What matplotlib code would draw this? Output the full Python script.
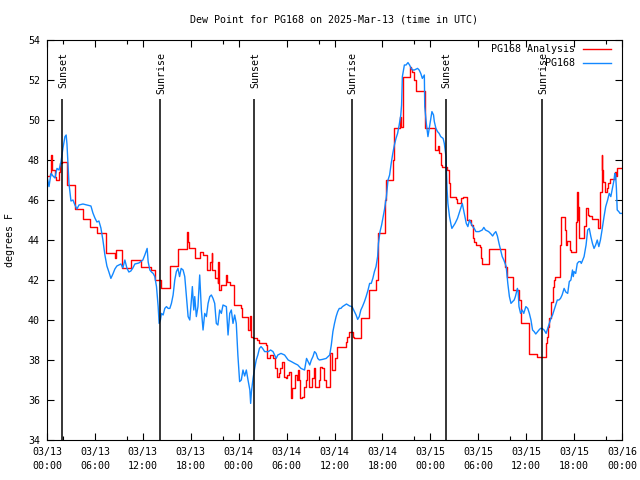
import matplotlib
matplotlib.use("Agg")
import matplotlib.pyplot as plt
from matplotlib.lines import Line2D

# hours since 2025-03-13 00:00 UTC
analysis_t = [0.0, 0.4, 0.5, 0.58, 0.95, 1.15, 1.45, 1.6, 1.85, 2.5, 3.5, 4.5, 5.4, 6.3,
              7.45, 8.5, 8.7, 9.4, 10.5, 11.8, 13.0, 13.5, 14.3, 15.45, 16.45, 17.5, 17.6,
              17.75, 18.5, 19.2, 19.5, 20.0, 20.45, 20.6, 20.7, 21.0, 21.35, 21.45, 21.55,
              21.75, 22.4, 22.55, 22.9, 23.45, 24.25, 24.45, 25.15, 25.45, 25.55, 25.75,
              26.3, 26.6, 27.4, 27.55, 27.9, 28.35, 28.6, 28.8, 29.0, 29.2, 29.45, 29.7,
              29.9, 30.1, 30.3, 30.55, 30.65, 31.1, 31.25, 31.4, 31.55, 31.7, 31.95, 32.15,
              32.4, 32.6, 32.8, 33.2, 33.4, 33.6, 34.0, 34.2, 34.45, 34.65, 34.9, 35.45,
              35.65, 36.05, 36.35, 37.4, 37.6, 37.85, 38.35, 38.5, 39.35, 40.35, 41.25,
              41.5, 42.3, 42.45, 43.35, 43.5, 44.15, 44.3, 44.6, 45.45, 45.6, 45.75, 45.95,
              46.15, 47.35, 48.55, 48.95, 49.1, 49.3, 49.5, 50.1, 50.35, 50.5, 51.2, 51.4,
              51.85, 52.1, 52.55, 53.15, 53.35, 53.45, 53.7, 54.25, 54.4, 54.5, 55.35,
              57.4, 57.6, 58.4, 59.15, 59.4, 60.3, 60.4, 61.4, 62.45, 62.6, 62.75, 62.85,
              63.15, 63.3, 63.45, 63.65, 64.2, 64.3, 64.8, 64.95, 65.15, 65.45, 65.6,
              66.25, 66.4, 66.45, 66.55, 66.65, 67.3, 67.45, 67.7, 67.85, 68.3, 69.0,
              69.25, 69.45, 69.55, 69.6, 69.85, 70.1, 70.3, 70.5, 71.1, 71.2, 71.4, 72.0]
analysis_v = [47.2, 47.3, 48.25, 47.5, 47.17, 47.0, 47.4, 47.83, 47.92, 46.75, 45.53, 45.03,
              44.63, 44.33, 43.33, 43.08, 43.5, 42.58, 43.0, 42.67, 42.5, 42.0, 41.58, 42.7,
              43.53, 44.42, 43.9, 43.6, 43.08, 43.42, 43.25, 42.5, 42.9, 43.33, 42.5, 42.08,
              41.83, 42.92, 41.5, 41.75, 42.25, 41.9, 41.75, 40.75, 40.6, 40.17, 39.5, 40.2,
              39.17, 39.08, 39.0, 38.83, 38.75, 38.08, 38.25, 38.08, 37.58, 37.17, 37.33,
              37.58, 37.92, 37.17, 37.08, 37.25, 37.42, 36.08, 36.58, 37.25, 37.0, 37.5,
              37.0, 36.08, 36.17, 36.67, 37.0, 37.5, 36.67, 37.08, 37.58, 36.67, 37.0,
              37.67, 37.58, 37.0, 36.63, 38.33, 37.5, 38.08, 38.67, 38.92, 39.17, 39.42,
              39.17, 39.08, 40.08, 41.5, 42.0, 44.37, 46.0, 47.0, 48.0, 49.58, 50.17, 49.63,
              52.17, 52.67, 52.55, 52.4, 52.0, 51.47, 49.58, 48.5, 48.7, 48.33, 47.75, 47.67,
              47.5, 46.83, 46.17, 46.03, 45.87, 46.1, 46.13, 45.0, 44.75, 44.08, 43.9,
              43.75, 43.67, 43.08, 42.78, 43.53, 42.67, 42.17, 41.5, 41.0, 39.83, 39.0,
              38.3, 38.17, 38.83, 39.17, 39.67, 40.08, 40.92, 41.67, 42.0, 42.13, 43.75,
              45.17, 44.5, 43.75, 43.95, 43.5, 43.42, 44.92, 46.42, 45.0, 45.67, 44.08,
              44.7, 45.58, 45.25, 45.2, 45.03, 44.58, 46.42, 48.25, 47.5, 46.92, 46.42,
              46.6, 46.83, 47.03, 47.4, 47.2, 47.62, 47.62]

station_t = [0.0, 0.25, 0.5, 0.75, 1.0, 1.25, 1.5, 1.75, 2.0, 2.25, 2.4, 2.5, 2.75, 3.0,
             3.25, 3.5, 3.75, 4.0, 4.5, 5.0, 5.5, 5.75, 6.0, 6.25, 6.5, 6.75, 7.0, 7.25,
             7.5, 7.75, 8.0, 8.25, 8.5, 8.75, 9.0, 9.25, 9.5, 9.75, 10.0, 10.25, 10.5,
             10.75, 11.0, 11.5, 12.0, 12.25, 12.54, 12.67, 12.88, 13.08, 13.29, 13.5,
             13.71, 13.92, 14.04, 14.2, 14.33, 14.54, 14.75, 14.96, 15.17, 15.38, 15.58,
             15.79, 16.0, 16.2, 16.4, 16.6, 16.8, 17.04, 17.25, 17.46, 17.67, 17.88,
             18.08, 18.2, 18.38, 18.5, 18.7, 18.9, 19.12, 19.33, 19.54, 19.75, 19.96,
             20.17, 20.38, 20.58, 20.79, 21.0, 21.2, 21.4, 21.62, 21.83, 22.04, 22.46,
             22.67, 22.88, 23.08, 23.29, 23.5, 23.7, 23.9, 24.12, 24.33, 24.54, 24.75,
             24.96, 25.17, 25.4, 25.5, 25.6, 25.8, 26.0, 26.2, 26.4, 26.6, 26.8, 27.0,
             27.25, 27.7, 28.0, 28.3, 28.5, 28.7, 28.9, 29.3, 29.75, 30.2, 30.6, 31.0,
             31.4, 31.8, 32.25, 32.5, 32.7, 32.9, 33.1, 33.3, 33.5, 33.7, 33.9, 34.1,
             34.5, 34.96, 35.4, 35.6, 35.8, 36.0, 36.2, 36.4, 36.6, 36.8, 37.0, 37.5,
             37.9, 38.2, 38.4, 38.7, 38.9, 39.1, 39.3, 39.5, 39.75, 39.96, 40.2, 40.4,
             40.6, 40.8, 41.0, 41.2, 41.4, 41.5, 41.7, 41.9, 42.1, 42.25, 42.5, 42.7,
             42.9, 43.1, 43.3, 43.5, 43.7, 43.9, 44.1, 44.3, 44.4, 44.5, 44.75, 44.96,
             45.2, 45.4, 45.6, 45.8, 46.0, 46.4, 46.6, 46.8, 47.0, 47.25, 47.3, 47.5,
             47.7, 47.9, 48.1, 48.2, 48.4, 48.5, 48.7, 48.9, 49.1, 49.3, 49.6, 49.75,
             49.96, 50.1, 50.2, 50.4, 50.6, 50.7, 50.9, 51.1, 51.4, 51.6, 51.8, 52.0,
             52.2, 52.5, 52.7, 52.9, 53.1, 53.3, 53.5, 53.7, 54.1, 54.5, 54.7, 54.9,
             55.3, 55.6, 55.8, 56.0, 56.2, 56.4, 56.6, 56.8, 57.0, 57.2, 57.5, 57.7,
             57.9, 58.1, 58.3, 58.5, 58.65, 58.8, 58.9, 59.0, 59.1, 59.3, 59.5, 59.7,
             59.96, 60.2, 60.4, 60.6, 60.8, 61.0, 61.2, 61.6, 61.8, 62.0, 62.25, 62.5,
             62.7, 62.9, 63.1, 63.3, 63.5, 63.7, 63.9, 64.1, 64.3, 64.5, 64.75, 64.96,
             65.2, 65.4, 65.6, 65.8, 65.9, 66.0, 66.2, 66.4, 66.6, 66.8, 66.9, 67.0,
             67.25, 67.5, 67.7, 67.9, 68.1, 68.3, 68.5, 68.7, 68.9, 69.1, 69.3, 69.5,
             69.75, 69.96, 70.2, 70.4, 70.6, 70.8, 71.0, 71.1, 71.2, 71.3, 71.4, 71.6,
             71.75, 71.95]
station_v = [47.2, 46.67, 47.33, 47.2, 47.1, 47.58, 47.5, 47.9, 48.6, 49.17, 49.25, 48.8,
             46.83, 45.95, 46.0, 45.75, 45.55, 45.75, 45.8, 45.75, 45.7, 45.35, 45.1, 44.9,
             44.95, 44.6, 44.0, 43.25, 42.7, 42.4, 42.08, 42.3, 42.55, 42.7, 42.75, 42.8,
             42.6, 43.0, 42.6, 42.4, 42.45, 42.6, 42.8, 42.85, 43.0, 43.25, 43.58, 42.9,
             42.5, 42.4, 42.33, 42.17, 41.67, 40.67, 39.83, 40.0, 40.33, 40.25, 40.58,
             40.67, 40.58, 40.58, 40.83, 41.25, 42.0, 42.42, 42.58, 42.17, 42.58, 42.5,
             42.17, 41.17, 40.17, 40.0, 41.0, 41.67, 40.5, 41.17, 40.17, 40.67, 42.25,
             40.5, 39.5, 40.33, 40.17, 40.83, 41.17, 41.25, 41.08, 40.83, 39.83, 39.75,
             40.5, 40.33, 40.75, 40.67, 39.25, 40.33, 40.5, 39.83, 40.25, 39.83, 38.25,
             36.92, 37.0, 37.5, 37.2, 37.5, 37.0, 36.5, 35.83, 36.42, 37.08, 37.58, 38.0,
             38.25, 38.58, 38.67, 38.58, 38.42, 38.42, 38.5, 38.42, 38.25, 38.08, 38.25,
             38.33, 38.25, 38.0, 37.92, 37.83, 37.75, 37.58, 37.5, 38.08, 37.92, 37.75,
             38.0, 38.17, 38.42, 38.33, 38.08, 38.0, 38.03, 38.08, 38.25, 38.75, 39.42,
             39.83, 40.17, 40.42, 40.58, 40.58, 40.67, 40.8, 40.7, 40.67, 40.5, 40.25,
             40.03, 40.17, 40.5, 40.67, 40.92, 41.17, 41.5, 41.83, 41.83, 42.08, 42.42,
             42.67, 43.17, 43.83, 44.42, 44.75, 45.17, 45.5, 46.17, 47.0, 47.25, 47.83,
             48.33, 48.75, 49.08, 49.33, 49.75, 50.25, 50.75, 52.17, 52.75, 52.75, 52.87,
             52.75, 52.58, 52.5, 52.5, 52.58, 52.5, 52.33, 52.08, 52.25, 50.67, 49.83,
             49.17, 49.67, 50.17, 50.42, 50.25, 49.92, 49.58, 49.42, 49.33, 49.17, 49.08,
             48.83, 48.17, 46.5, 45.83, 45.17, 44.75, 44.58, 44.7, 44.83, 45.08, 45.33,
             45.58, 45.83, 45.42, 44.83, 44.67, 45.0, 44.83, 44.67, 44.58, 44.42, 44.42,
             44.5, 44.63, 44.5, 44.42, 44.3, 44.2, 44.33, 44.42, 44.2, 43.83, 43.5, 43.17,
             43.0, 42.67, 41.83, 41.17, 40.83, 40.92, 41.0, 41.17, 41.42, 41.58, 41.42,
             40.67, 40.33, 40.5, 40.33, 40.67, 40.58, 40.33, 40.0, 39.5, 39.42, 39.3,
             39.5, 39.58, 39.58, 39.5, 39.33, 39.58, 39.83, 40.08, 40.25, 40.5, 40.75,
             41.0, 41.0, 41.08, 41.25, 41.58, 41.4, 41.33, 41.92, 42.0, 42.5, 42.17,
             42.42, 42.33, 42.83, 42.92, 42.92, 42.83, 42.92, 43.17, 43.75, 44.5, 44.58,
             44.17, 43.83, 43.58, 43.75, 44.0, 43.67, 44.0, 44.5, 45.17, 45.67, 46.0,
             46.33, 46.17, 46.58, 47.0, 47.33, 47.25, 46.58, 45.5, 45.42, 45.33, 45.33]

sun_t = [1.92, 14.2, 25.92, 38.17, 49.93, 62.04]
sun_labels = ["Sunset", "Sunrise", "Sunset", "Sunrise", "Sunset", "Sunrise"]

tick_hours = list(range(0, 73, 6))
minor_hours = [2, 10, 22, 34, 46, 58, 70]
tick_labels = ["03/13\n00:00", "03/13\n06:00", "03/13\n12:00", "03/13\n18:00",
               "03/14\n00:00", "03/14\n06:00", "03/14\n12:00", "03/14\n18:00",
               "03/15\n00:00", "03/15\n06:00", "03/15\n12:00", "03/15\n18:00",
               "03/16\n00:00"]

plt.rcParams['font.family'] = ['DejaVu Sans Mono']
plt.rcParams['font.size'] = 7.2

fig = plt.figure(figsize=(6.4, 4.8), dpi=100)
ax = fig.add_axes([47/640, 40/480, 575/640, 400/480])

ax.plot(analysis_t, analysis_v, color='#ff0000', lw=1.0, drawstyle='steps-post')
ax.plot(station_t, station_v, color='#1388ff', lw=1.0)

# sunrise / sunset markers
ax.vlines(sun_t, 34, 51.05, color='black', lw=1.1)
for t, lab in zip(sun_t, sun_labels):
    ax.text(t + 0.12, 53.42, lab, rotation=90, ha='center', va='top')

ax.set_xlim(0, 72)
ax.set_ylim(34, 54)
ax.set_xticks(tick_hours)
ax.set_xticks(minor_hours, minor=True)
ax.set_xticklabels(tick_labels, linespacing=1.5)
ax.set_yticks(range(34, 55, 2))
ax.tick_params(direction='in', top=True, right=True, length=5, width=0.8, pad=5)
ax.tick_params(which='minor', direction='in', top=True, length=3, width=0.8)
for s in ax.spines.values():
    s.set_linewidth(0.8)

# legend, gnuplot style (text right aligned, sample on the right)
ax.text(0.918, 0.9775, "PG168 Analysis", transform=ax.transAxes, ha='right', va='center')
ax.text(0.918, 0.9425, "PG168", transform=ax.transAxes, ha='right', va='center')
ax.add_line(Line2D([0.932, 0.981], [0.9775, 0.9775], transform=ax.transAxes,
                   color='#ff0000', lw=1.0))
ax.add_line(Line2D([0.932, 0.981], [0.9425, 0.9425], transform=ax.transAxes,
                   color='#1388ff', lw=1.0))

fig.text(334/640, 1 - 19/480, "Dew Point for PG168 on 2025-Mar-13 (time in UTC)",
         ha='center', va='center')
fig.text(10/640, 240/480, "degrees F", rotation=90, ha='center', va='center')

fig.savefig("out.png", dpi=100)
